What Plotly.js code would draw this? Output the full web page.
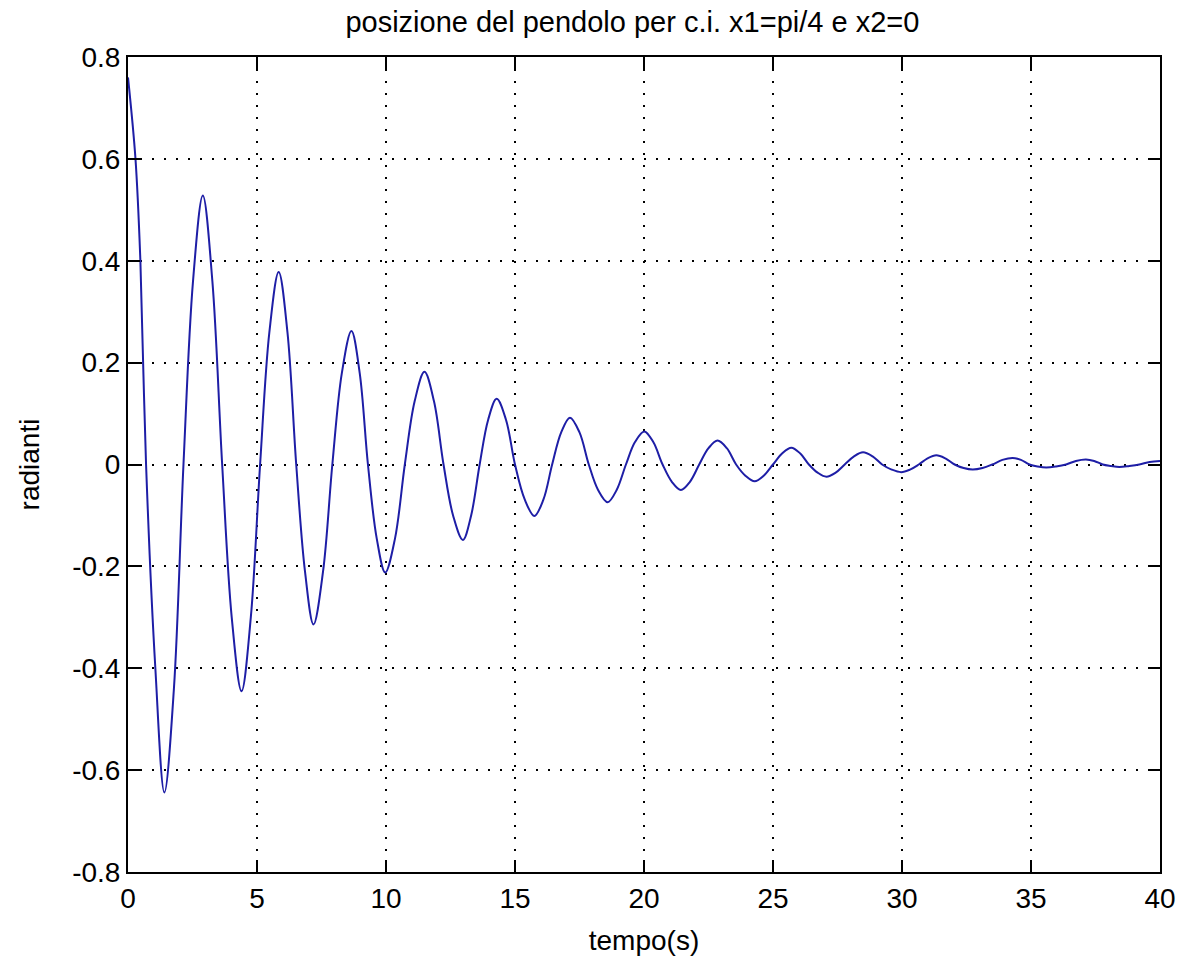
<!DOCTYPE html>
<html>
<head>
<meta charset="utf-8">
<script src="https://cdn.plot.ly/plotly-3.0.1.min.js"></script>
<style>html,body{margin:0;padding:0;background:#fff;}#chart{width:1182px;height:960px;}</style>
</head>
<body>
<div id="chart"></div>
<script>
// time (s) and angle (rad) (extrema, zero crossings and flank points)
const tempo = [0, 0.29, 0.48, 0.70, 1.06,
  1.41, 1.78, 2.15, 2.52,
  2.90, 3.27, 3.65, 4.02,
  4.40, 4.76, 5.12, 5.48,
  5.84, 6.18, 6.52, 6.86,
  7.19, 7.56, 7.92, 8.29,
  8.66, 8.98, 9.30, 9.64,
  9.97, 10.35, 10.73, 11.11,
  11.49, 11.86, 12.23, 12.60,
  12.98, 13.30, 13.63, 13.96,
  14.29, 14.65, 15.00, 15.38,
  15.75, 16.10, 16.44, 16.79,
  17.13, 17.50, 17.86, 18.22,
  18.59, 18.94, 19.30, 19.65,
  20.01, 20.36, 20.72, 21.08,
  21.43, 21.78, 22.14, 22.50,
  22.85, 23.21, 23.57, 23.93,
  24.29, 24.64, 25.00, 25.36,
  25.71, 26.05, 26.39, 26.73,
  27.07, 27.43, 27.78, 28.14,
  28.49, 28.86, 29.23, 29.60,
  29.97, 30.31, 30.65, 30.99,
  31.33, 31.68, 32.04, 32.39,
  32.74, 33.12, 33.50, 33.89,
  34.29, 34.61, 34.94, 35.26,
  35.59, 35.97, 36.36, 36.74,
  37.13, 37.45, 37.78, 38.10,
  38.42, 38.81, 39.20, 39.60,
  40.0];
const radianti = [0.76, 0.60, 0.40, 0, -0.40,
  -0.644, -0.44, 0, 0.36,
  0.528, 0.36, 0, -0.30,
  -0.445, -0.30, 0, 0.26,
  0.378, 0.26, 0, -0.21,
  -0.314, -0.21, 0, 0.18,
  0.262, 0.18, 0, -0.145,
  -0.212, -0.145, 0, 0.124,
  0.182, 0.124, 0, -0.10,
  -0.148, -0.10, 0, 0.088,
  0.129, 0.088, 0, -0.069,
  -0.101, -0.069, 0, 0.063,
  0.092, 0.063, 0, -0.050,
  -0.074, -0.050, 0, 0.044,
  0.065, 0.044, 0, -0.034,
  -0.050, -0.034, 0, 0.032,
  0.047, 0.032, 0, -0.022,
  -0.033, -0.022, 0, 0.022,
  0.033, 0.022, 0, -0.016,
  -0.024, -0.016, 0, 0.016,
  0.024, 0.016, 0, -0.010,
  -0.015, -0.010, 0, 0.012,
  0.018, 0.012, 0, -0.007,
  -0.010, -0.007, 0, 0.009,
  0.013, 0.009, 0, -0.004,
  -0.006, -0.004, 0, 0.007,
  0.010, 0.007, 0, -0.003,
  -0.005, -0.003, 0, 0.005,
  0.007];

const xTickVals = [0, 5, 10, 15, 20, 25, 30, 35, 40];
const xTickText = ["0", "5", "10", "15", "20", "25", "30", "35", "40"];
const yTickVals = [-0.8, -0.6, -0.4, -0.2, 0, 0.2, 0.4, 0.6, 0.8];
const yTickText = ["-0.8", "-0.6", "-0.4", "-0.2", "0", "0.2", "0.4", "0.6", "0.8"];

const titleText = "posizione del pendolo per c.i. x1=pi/4 e x2=0";
const xTitle = "tempo(s)";
const yTitle = "radianti";

const font = "Liberation Sans, Arial, sans-serif";

const trace = {
  x: tempo, y: radianti, type: "scatter", mode: "lines",
  line: {color: "#1e1ea6", width: 2, shape: "spline", smoothing: 1},
  hoverinfo: "skip"
};

const axisCommon = {
  showline: true, linecolor: "#000", linewidth: 2, mirror: "ticks",
  ticks: "inside", ticklen: 12, tickwidth: 2, tickcolor: "#000",
  showgrid: true, gridcolor: "#000", gridwidth: 2, griddash: "2px,10px",
  zeroline: false, tickfont: {family: font, size: 28, color: "#000"},
  tickmode: "array"
};

const layout = {
  width: 1182, height: 960,
  margin: {l: 128, r: 22, t: 57, b: 88},
  paper_bgcolor: "#fff", plot_bgcolor: "#fff",
  showlegend: false,
  title: {text: titleText, font: {family: font, size: 29, color: "#000"}, x: 0.535, xanchor: "center", y: 0.977, yanchor: "middle"},
  xaxis: Object.assign({}, axisCommon, {range: [0, 40], tickvals: xTickVals, ticktext: xTickText,
    title: {text: xTitle, font: {family: font, size: 28, color: "#000"}, standoff: 18}}),
  yaxis: Object.assign({}, axisCommon, {range: [-0.8, 0.8], tickvals: yTickVals, ticktext: yTickText,
    title: {text: yTitle, font: {family: font, size: 28, color: "#000"}, standoff: 24}})
};

Plotly.newPlot("chart", [trace], layout, {displayModeBar: false, staticPlot: true});
</script>
</body>
</html>
